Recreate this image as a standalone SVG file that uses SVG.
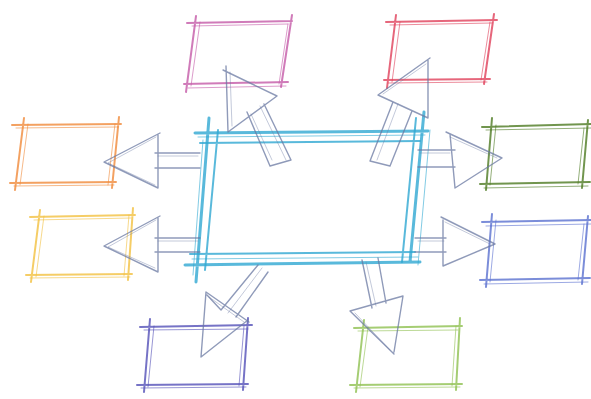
<svg xmlns="http://www.w3.org/2000/svg" width="591" height="399" viewBox="0 0 591 399">
<style>
.b{fill:none;stroke-linecap:round;stroke-linejoin:round;stroke-width:2;opacity:.8}
.t{stroke-width:1;opacity:.6}
.c{stroke-width:3}
.a{fill:none;stroke:#6a78a2;stroke-width:1.4;stroke-linecap:round;stroke-linejoin:round;opacity:.75}
.a2{stroke-width:0.8;opacity:.5}
</style>
<rect width="591" height="399" fill="#ffffff"/>
<g id="center" stroke="#2fa8d2">
<path class="b c" d="M195 133 L428 131 M185 265 L420 262 M209 118 L196 282 M424 112 L410 262"/>
<path class="b" d="M200 143 L420 141 M190 254 L415 252 M218 130 L205 270 M416 118 L402 262"/>
<path class="b t" d="M203 140 L193 275 M430 130 L418 265 M198 137 L425 135 M192 259 L418 257"/>
</g>
<g id="n-pink" stroke="#c45aa8">
<path class="b" d="M187 23 L292 21 M184 84 L288 82 M196 16 L186 92 M292 15 L281 87"/>
<path class="b t" d="M192 26 L288 24 M188 88 L286 86 M200 22 L191 86 M288 24 L279 84"/>
</g>
<g id="n-red" stroke="#e0405a">
<path class="b" d="M386 22 L497 20 M384 80 L490 79 M396 15 L387 88 M494 14 L484 84"/>
<path class="b t" d="M390 25 L492 23 M388 83 L487 82 M400 22 L392 82 M490 22 L481 80"/>
</g>
<g id="n-orange" stroke="#f08a3a">
<path class="b" d="M12 125 L121 124 M10 183 L116 182 M24 118 L15 190 M119 117 L112 188"/>
<path class="b t" d="M16 128 L118 127 M14 186 L114 185 M28 124 L20 185 M115 124 L108 185"/>
</g>
<g id="n-yellow" stroke="#f2c040">
<path class="b" d="M30 217 L135 215 M26 275 L132 274 M40 210 L31 282 M133 208 L128 280"/>
<path class="b t" d="M34 220 L131 218 M30 278 L130 277 M44 216 L36 277 M129 215 L124 276"/>
</g>
<g id="n-darkgreen" stroke="#4d7a22">
<path class="b" d="M482 127 L591 124 M480 184 L590 182 M492 118 L486 190 M588 120 L582 188"/>
<path class="b t" d="M486 130 L591 128 M484 188 L588 186 M496 125 L490 185 M584 128 L578 184"/>
</g>
<g id="n-blue" stroke="#5a70d0">
<path class="b" d="M482 222 L591 220 M480 280 L590 278 M492 214 L486 287 M588 216 L582 284"/>
<path class="b t" d="M486 226 L591 224 M484 284 L588 282 M496 220 L490 282 M584 224 L578 280"/>
</g>
<g id="n-purple" stroke="#5450b8">
<path class="b" d="M140 327 L252 325 M137 385 L248 384 M150 319 L144 392 M248 318 L243 390"/>
<path class="b t" d="M144 330 L248 329 M141 388 L246 387 M154 326 L148 387 M244 326 L239 386"/>
</g>
<g id="n-lightgreen" stroke="#8fc050">
<path class="b" d="M354 328 L462 326 M350 385 L462 384 M364 320 L356 392 M460 318 L456 390"/>
<path class="b t" d="M358 331 L458 330 M354 388 L460 387 M368 327 L360 387 M456 326 L452 386"/>
</g>
<g id="connectors">
<path class="a" d="M200 153 L155 153 M200 168 L155 168 M160 133 L104 162 L158 188 L158 135"/>
<path class="a a2" d="M198 156 L158 156 M156 137 L108 163 L155 185"/>
<path class="a" d="M200 238 L155 238 M200 252 L155 252 M160 216 L104 246 L158 272 L158 218"/>
<path class="a a2" d="M198 241 L158 241 M156 220 L108 247 L155 268"/>
<path class="a" d="M418 150 L455 150 M418 167 L455 167 M446 132 L502 158 L455 188 L450 134"/>
<path class="a a2" d="M420 153 L450 153 M450 137 L497 158"/>
<path class="a" d="M415 238 L446 238 M415 252 L446 252 M441 217 L495 244 L443 266 L443 220"/>
<path class="a a2" d="M418 241 L444 241 M445 222 L490 244"/>
<path class="a" d="M226 66 L228 132 L277 96 L223 70 M247 112 L270 166 M264 104 L291 160 M270 166 L291 160"/>
<path class="a a2" d="M230 72 L232 126 M251 114 L272 160 M260 106 L286 160"/>
<path class="a" d="M430 58 L378 95 L428 118 L428 60 M393 102 L370 161 M412 111 L390 166 M370 161 L390 166"/>
<path class="a a2" d="M426 64 L383 94 M398 104 L377 160"/>
<path class="a" d="M249 322 L206 292 L201 357 L248 320 M258 265 L221 310 L207 295 M268 272 L236 317"/>
<path class="a a2" d="M244 322 L209 297 M262 268 L228 313"/>
<path class="a" d="M394 354 L350 311 L403 296 L394 352 M362 260 L372 308 M378 258 L386 303"/>
<path class="a a2" d="M390 350 L355 313 M366 262 L376 306"/>
</g>
</svg>
